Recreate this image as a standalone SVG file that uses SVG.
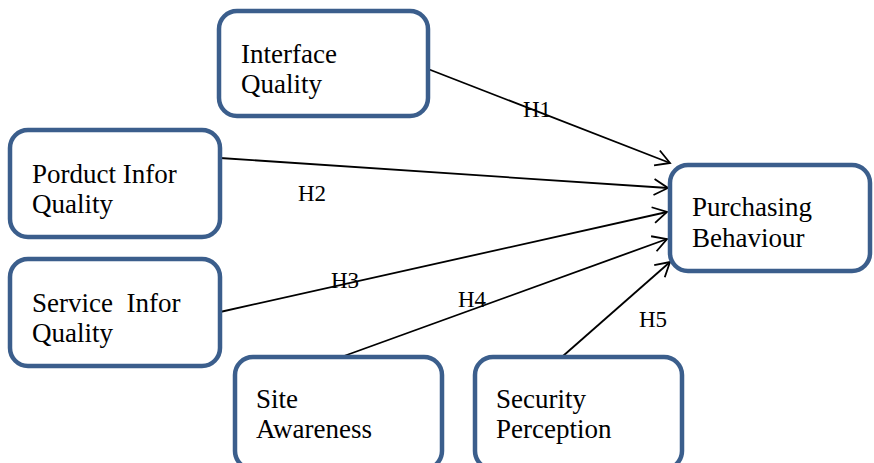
<svg xmlns="http://www.w3.org/2000/svg" width="874" height="463" viewBox="0 0 874 463">
<style>
.box{fill:#fff;stroke:#3b5e8c;stroke-width:4.5}
.t{font-family:"Liberation Serif","Times New Roman",serif;font-size:27px;fill:#000;white-space:pre}
.lbl{font-family:"Liberation Serif","Times New Roman",serif;font-size:23px;fill:#000}
.c{stroke:#000;stroke-width:1.8;fill:none;marker-end:url(#ah)}
</style>
<defs>
<marker id="ah" markerUnits="userSpaceOnUse" markerWidth="20" markerHeight="20" refX="16" refY="10" orient="auto" overflow="visible">
<path d="M2,2 L16,10 L2,18" fill="none" stroke="#000" stroke-width="1.8"/>
</marker>
</defs>
<rect width="874" height="463" fill="#fff"/>
<g id="connectors">
<line class="c" x1="428" y1="69" x2="670" y2="163"/>
<line class="c" x1="220" y1="158" x2="668" y2="188"/>
<line class="c" x1="220" y1="312" x2="667" y2="212"/>
<line class="c" x1="344" y1="356" x2="667" y2="239"/>
<line class="c" x1="563" y1="356" x2="670" y2="262"/>
<text class="lbl" x="523" y="117">H1</text>
<text class="lbl" x="298" y="201">H2</text>
<text class="lbl" x="331" y="288">H3</text>
<text class="lbl" x="458" y="307">H4</text>
<text class="lbl" x="639" y="327">H5</text>
</g>
<g id="interface">
<rect class="box" x="219" y="11" width="209" height="105" rx="18"/>
<text class="t" x="241" y="63">Interface</text>
<text class="t" x="241" y="93">Quality</text>
</g>
<g id="product">
<rect class="box" x="10" y="130" width="210" height="107" rx="18"/>
<text class="t" x="32" y="183">Porduct Infor</text>
<text class="t" x="32" y="213">Quality</text>
</g>
<g id="service">
<rect class="box" x="10" y="259" width="210" height="107" rx="18"/>
<text class="t" x="32" y="312" xml:space="preserve">Service  Infor</text>
<text class="t" x="32" y="342">Quality</text>
</g>
<g id="purchasing">
<rect class="box" x="670" y="165" width="200" height="106" rx="18"/>
<text class="t" x="692" y="216">Purchasing</text>
<text class="t" x="692" y="247">Behaviour</text>
</g>
<g id="site">
<rect class="box" x="235" y="357" width="207" height="112" rx="18"/>
<text class="t" x="256" y="408">Site</text>
<text class="t" x="256" y="438">Awareness</text>
</g>
<g id="security">
<rect class="box" x="475" y="357" width="207" height="112" rx="18"/>
<text class="t" x="496" y="408">Security</text>
<text class="t" x="496" y="438">Perception</text>
</g>
</svg>
